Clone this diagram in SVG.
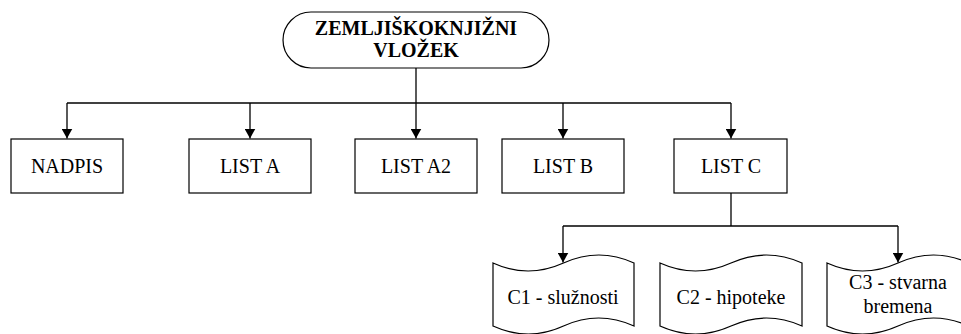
<svg xmlns="http://www.w3.org/2000/svg" width="961" height="334" viewBox="0 0 961 334">
<defs>
<style>
.shape{fill:#fff;stroke:#000;stroke-width:1.2}
.lbl{font-family:"Liberation Serif","Times New Roman",serif;font-size:20px;fill:#000;text-anchor:middle}
.title{font-weight:bold}
.conn{fill:none;stroke:#000;stroke-width:1.3}
</style>
<marker id="ah" markerWidth="11" markerHeight="11" refX="10" refY="5.5" orient="auto" markerUnits="userSpaceOnUse">
<path d="M0,0 L10,5.5 L0,11 z" fill="#000"/>
</marker>
</defs>
<rect width="961" height="334" fill="#fff"/>
<g id="connectors">
<path class="conn" d="M416,68 V103"/>
<path class="conn" d="M67,103 H731"/>
<path class="conn" d="M67,103 V138.5" marker-end="url(#ah)"/>
<path class="conn" d="M250,103 V138.5" marker-end="url(#ah)"/>
<path class="conn" d="M416,103 V138.5" marker-end="url(#ah)"/>
<path class="conn" d="M563,103 V138.5" marker-end="url(#ah)"/>
<path class="conn" d="M731,103 V138.5" marker-end="url(#ah)"/>
<path class="conn" d="M731,193 V226"/>
<path class="conn" d="M563,226 H898"/>
<path class="conn" d="M563,226 V262.5" marker-end="url(#ah)"/>
<path class="conn" d="M898,226 V262.5" marker-end="url(#ah)"/>
</g>
<g id="root">
<rect class="shape" x="283" y="12" width="266" height="56" rx="28" ry="28"/>
<text class="lbl title" x="416" y="35">ZEMLJIŠKOKNJIŽNI</text>
<text class="lbl title" x="416" y="57">VLOŽEK</text>
</g>
<g id="nadpis">
<rect class="shape" x="11" y="139" width="112" height="54"/>
<text class="lbl" x="67" y="172.5">NADPIS</text>
</g>
<g id="listA">
<rect class="shape" x="189" y="139" width="122" height="54"/>
<text class="lbl" x="250" y="172.5">LIST A</text>
</g>
<g id="listA2">
<rect class="shape" x="355" y="139" width="122" height="54"/>
<text class="lbl" x="416" y="172.5">LIST A2</text>
</g>
<g id="listB">
<rect class="shape" x="502" y="139" width="122" height="54"/>
<text class="lbl" x="563" y="172.5">LIST B</text>
</g>
<g id="listC">
<rect class="shape" x="674" y="139" width="113" height="54"/>
<text class="lbl" x="731" y="172.5">LIST C</text>
</g>
<g id="c1">
<path class="shape" d="M493,263 Q528,279 563.5,263 T634,263 L634,326 Q598.5,310 563.5,326 T493,326 Z"/>
<text class="lbl" x="563" y="304">C1 - služnosti</text>
</g>
<g id="c2">
<path class="shape" d="M660,263 Q695.5,279 731,263 T802,263 L802,326 Q766.5,310 731,326 T660,326 Z"/>
<text class="lbl" x="731" y="304">C2 - hipoteke</text>
</g>
<g id="c3">
<path class="shape" d="M827,263 Q862.5,279 898,263 T969,263 L969,326 Q933.5,310 898,326 T827,326 Z"/>
<text class="lbl" x="898" y="289">C3 - stvarna</text>
<text class="lbl" x="898" y="313">bremena</text>
</g>
</svg>
